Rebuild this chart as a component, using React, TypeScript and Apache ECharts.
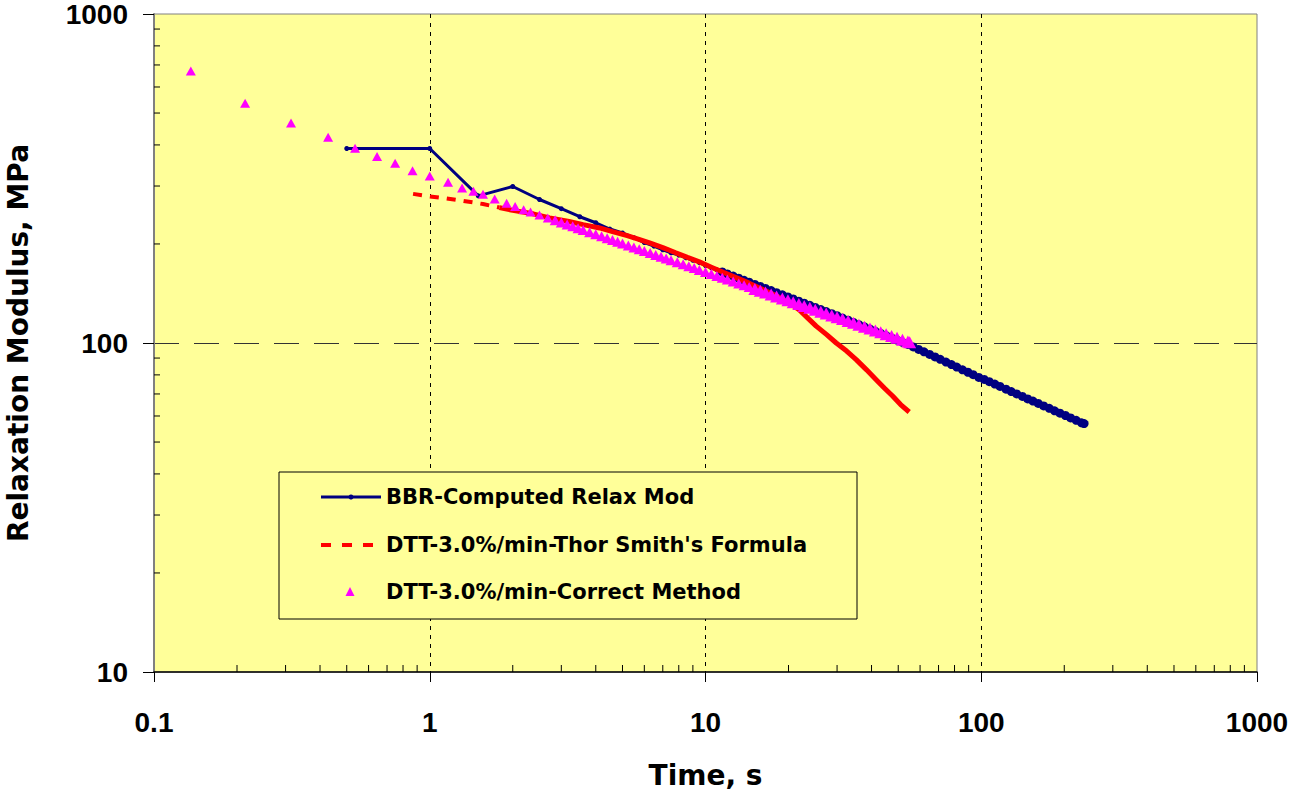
import React, { useEffect, useRef } from 'react';
import * as echarts from 'echarts';

// ---------- data ----------
const bbrTime = [0.5, 1.0, 1.5, 2.0, 2.5, 3.0, 3.5, 4.0, 4.5, 5.0, 5.5, 6.0, 6.5, 7.0, 7.5, 8.0, 8.5, 9.0, 9.5,
  10, 10.5, 11, 11.5, 12, 12.6, 13.2, 13.8, 14.4, 15.1, 15.8, 16.5, 17.3, 18.1, 19, 19.9, 20.8, 21.8, 22.8, 23.9,
  25, 26.2, 27.4, 28.7, 30, 31.4, 32.9, 34.4, 36, 37.7, 39.5, 41.3, 43.2, 45.2, 47.3, 49.5, 51.8, 54.2, 56.7,
  59.3, 62, 65, 68, 71, 74.5, 78, 81.5, 85.5, 89.5, 93.5, 98, 102.5, 107, 112, 117, 123, 128.5, 134.5, 141,
  147.5, 154, 161, 168.5, 176.5, 184.5, 193, 202, 211, 221, 231, 236];
const bbrModulus = [390, 390, 280, 299, 273, 256, 242, 232, 222, 216, 209, 202, 197, 192, 188, 185, 181.5, 178.5, 175.5,
  172, 169.3, 166.8, 164.5, 162.2, 159.7, 157.4, 155.1, 153.1, 150.7, 148.6, 146.5, 144.3, 142.2, 140.1, 138.0, 136.1, 134.0, 132.1, 130.2,
  128.3, 126.4, 124.6, 122.7, 121, 119.1, 117.3, 115.5, 113.7, 112.0, 110.2, 108.5, 106.9, 105.3, 103.6, 102.1, 100.5, 99.0, 97.3,
  95.6, 94.0, 92.3, 90.7, 89.2, 87.5, 86.0, 84.5, 82.9, 81.5, 80.1, 78.6, 77.5, 76.3, 75.0, 73.8, 72.4, 71.2, 70.0, 68.8,
  67.6, 66.6, 65.5, 64.4, 63.3, 62.2, 61.2, 60.2, 59.2, 58.2, 57.2, 56.9];

const thorDashTime = [0.87, 1.0, 1.15, 1.3, 1.56, 1.79];
const thorDashModulus = [284, 279, 275, 271, 264.5, 258];
const thorTime = [1.79, 2.0, 2.37, 2.72, 3.2, 3.6, 4.13, 4.6, 5.2, 5.7, 6.27, 7.0, 7.8, 8.6, 9.5, 10.5, 11.6, 12.9,
  14.4, 16, 17.5, 19, 20.5, 21.9, 23.5, 25.2, 27.5, 29.8, 32.5, 35.2, 38.3, 41.5, 44.5, 47.7, 51, 54.8];
const thorModulus = [258, 253, 247, 240, 234, 229, 223.7, 218, 212, 207, 201.5, 195, 188, 182, 176.4, 170, 164, 158,
  152, 146, 141, 136, 131, 126, 119, 112.5, 106, 100, 94.5, 89, 83, 77.5, 73, 69, 65, 61.7];

const corrTime = [0.136, 0.214, 0.314, 0.428, 0.536, 0.644, 0.749, 0.866, 1.0, 1.165, 1.31, 1.44, 1.56, 1.72, 1.90,
  2.04, 2.19, 2.32, 2.50, 2.68, 2.85, 3.0, 3.15, 3.3, 3.45, 3.6, 3.8, 4.0, 4.2, 4.4, 4.6, 4.8, 5.0, 5.25, 5.5, 5.75,
  6.0, 6.3, 6.6, 6.9, 7.2, 7.5, 7.9, 8.3, 8.7, 9.1, 9.5, 10, 10.5, 11, 11.5, 12, 12.6, 13.2, 13.8, 14.4, 15.1, 15.8,
  16.5, 17.3, 18.1, 19, 19.9, 20.8, 21.8, 22.8, 23.9, 25, 26.2, 27.4, 28.7, 30, 31.4, 32.9, 34.4, 36, 37.7, 39.5,
  41.3, 43.2, 45.2, 47.3, 49.5, 51.8, 54.2, 55];
const corrModulus = [671, 535, 466, 422, 391, 369, 352, 334, 322, 308, 296, 289, 283, 274, 266,
  260, 254, 250, 245, 240, 235.9, 232.5, 229.2, 226.2, 223.3, 220.6, 217.2, 214.0, 211.0, 208.2, 205.6, 203.0, 200.7, 197.9, 195.2, 192.7,
  190.4, 187.7, 185.2, 182.9, 180.7, 178.5, 175.9, 173.4, 171.1, 168.9, 166.8, 164.3, 162.1, 159.9, 157.9, 155.9, 153.8, 151.7, 149.8, 148.0, 145.9, 144.1,
  142.3, 140.4, 138.5, 136.6, 134.8, 133.1, 131.3, 129.6, 127.9, 126.2, 124.5, 122.9, 121.3, 119.8, 118.2, 116.6, 115.2, 113.6, 112.1, 110.6,
  109.2, 107.8, 106.4, 105.0, 103.7, 102.3, 101.0, 100.6];

const xTickValues = [0.1, 1, 10, 100, 1000];
const xTickLabels = ['0.1', '1', '10', '100', '1000'];
const yTickValues = [10, 100, 1000];
const yTickLabels = ['10', '100', '1000'];
const xDecades = [0.1, 1, 10, 100];
const yDecades = [10, 100];
const minorSteps = [2, 3, 4, 5, 6, 7, 8, 9];

const seriesNames = ['BBR-Computed Relax Mod', "DTT-3.0%/min-Thor Smith's Formula", 'DTT-3.0%/min-Correct Method'];

const zip = (a: number[], b: number[]) => a.map((t, i) => [t, b[i]]);

const labelFor = (vals: number[], labels: string[]) => (v: number) => {
  let best = 0;
  vals.forEach((t, i) => { if (Math.abs(Math.log10(t) - Math.log10(v)) < Math.abs(Math.log10(vals[best]) - Math.log10(v))) best = i; });
  return labels[best];
};

export default function App() {
  const ref = useRef<HTMLDivElement>(null);
  useEffect(() => {
    if (!ref.current) return;
    const chart = echarts.init(ref.current, undefined, { renderer: 'svg' });
    const xMinor: number[][] = [];
    xDecades.forEach(d => minorSteps.forEach(s => xMinor.push([d * s, 10])));
    const yMinor: number[][] = [];
    yDecades.forEach(d => minorSteps.forEach(s => yMinor.push([0.1, d * s])));
    const labelFont = { fontFamily: '"Liberation Sans", Arial', fontWeight: 'bold' as const, fontSize: 28, color: '#000' };
    const nameFont = { fontFamily: '"DejaVu Sans"', fontWeight: 'bold' as const, fontSize: 28, color: '#000' };
    const legFont = { fontFamily: '"DejaVu Sans"', fontWeight: 'bold', fontSize: 21, fill: '#000', align: 'left', verticalAlign: 'middle' };

    chart.setOption({
      animation: false,
      backgroundColor: '#fff',
      grid: {
        left: 154, right: 37, top: 14, bottom: 123, show: true, backgroundColor: '#FFFF99',
        borderColor: '#808080', borderWidth: 1, containLabel: false, outerBoundsMode: 'none',
      },
      xAxis: {
        type: 'log', logBase: 10, min: 0.1, max: 1000,
        name: 'Time, s', nameLocation: 'middle', nameGap: 89, nameTextStyle: nameFont,
        axisLine: { show: true, lineStyle: { color: '#000', width: 1.5 } },
        axisTick: { show: true, length: 10, inside: false, lineStyle: { color: '#000', width: 1 } },
        axisLabel: { ...labelFont, margin: 36, formatter: labelFor(xTickValues, xTickLabels) },
        splitLine: { show: true, showMinLine: false, showMaxLine: false, lineStyle: { color: '#000', width: 1, type: [4, 5] } },
        minorTick: { show: false },
      },
      yAxis: {
        type: 'log', logBase: 10, min: 10, max: 1000,
        name: 'Relaxation Modulus, MPa', nameLocation: 'middle', nameGap: 122, nameTextStyle: nameFont,
        axisLine: { show: true, lineStyle: { color: '#808080', width: 2 } },
        axisTick: { show: true, length: 11, inside: false, lineStyle: { color: '#000', width: 1 } },
        axisLabel: { ...labelFont, margin: 26, formatter: labelFor(yTickValues, yTickLabels) },
        splitLine: { show: true, showMinLine: false, showMaxLine: false, lineStyle: { color: '#333', width: 1, type: [25, 15] } },
      },
      series: [
        {
          name: seriesNames[0], type: 'line', z: 2, data: zip(bbrTime, bbrModulus),
          symbol: 'circle', symbolSize: (v: number[]) => (v[0] > 11 ? 9 : 5),
          lineStyle: { color: '#000080', width: 3 }, itemStyle: { color: '#000080' },
        },
        {
          name: seriesNames[1], type: 'line', z: 3, data: zip(thorDashTime, thorDashModulus), symbol: 'none',
          lineStyle: { color: '#FF0000', width: 4, type: [9, 8] },
        },
        {
          name: seriesNames[1] + ' ', type: 'line', z: 3, data: zip(thorTime, thorModulus), symbol: 'none',
          lineStyle: { color: '#FF0000', width: 5 },
        },
        {
          name: seriesNames[2], type: 'scatter', z: 4, data: zip(corrTime, corrModulus),
          symbol: 'triangle',
          symbolSize: (v: number[]) => (v[0] < 2.7 ? [10, 9] : v[0] < 15 ? [11, 10] : [13, 12]),
          itemStyle: { color: '#FF00FF', opacity: 1 },
        },
        {
          type: 'custom', silent: true, data: xMinor, z: 5,
          renderItem: (_p: any, api: any) => {
            const pt = api.coord([api.value(0), api.value(1)]);
            return { type: 'line', shape: { x1: pt[0], y1: pt[1], x2: pt[0], y2: pt[1] - 7 }, style: { stroke: '#000', lineWidth: 1 } };
          },
        },
        {
          type: 'custom', silent: true, data: yMinor, z: 5,
          renderItem: (_p: any, api: any) => {
            const pt = api.coord([api.value(0), api.value(1)]);
            return { type: 'line', shape: { x1: pt[0], y1: pt[1], x2: pt[0] + 6, y2: pt[1] }, style: { stroke: '#000', lineWidth: 1 } };
          },
        },
      ],
      graphic: [
        { type: 'rect', z: 10, shape: { x: 279, y: 472, width: 578, height: 147 }, style: { fill: '#FFFF99', stroke: '#000', lineWidth: 1 } },
        { type: 'line', z: 11, shape: { x1: 321, y1: 497, x2: 381, y2: 497 }, style: { stroke: '#000080', lineWidth: 3 } },
        { type: 'circle', z: 11, shape: { cx: 351, cy: 497, r: 2.5 }, style: { fill: '#000080' } },
        { type: 'text', z: 11, style: { ...legFont, text: seriesNames[0], x: 386, y: 497 } },
        { type: 'line', z: 11, shape: { x1: 321, y1: 545, x2: 375, y2: 545 }, style: { stroke: '#FF0000', lineWidth: 4, lineDash: [10, 11] } },
        { type: 'text', z: 11, style: { ...legFont, text: seriesNames[1], x: 386, y: 545 } },
        { type: 'polygon', z: 11, shape: { points: [[350, 587], [345.5, 596], [354.5, 596]] }, style: { fill: '#FF00FF' } },
        { type: 'text', z: 11, style: { ...legFont, text: seriesNames[2], x: 386, y: 592 } },
      ],
    });
    return () => chart.dispose();
  }, []);
  return <div ref={ref} style={{ position: 'absolute', left: 0, top: 0, width: 1294, height: 795 }} />;
}
